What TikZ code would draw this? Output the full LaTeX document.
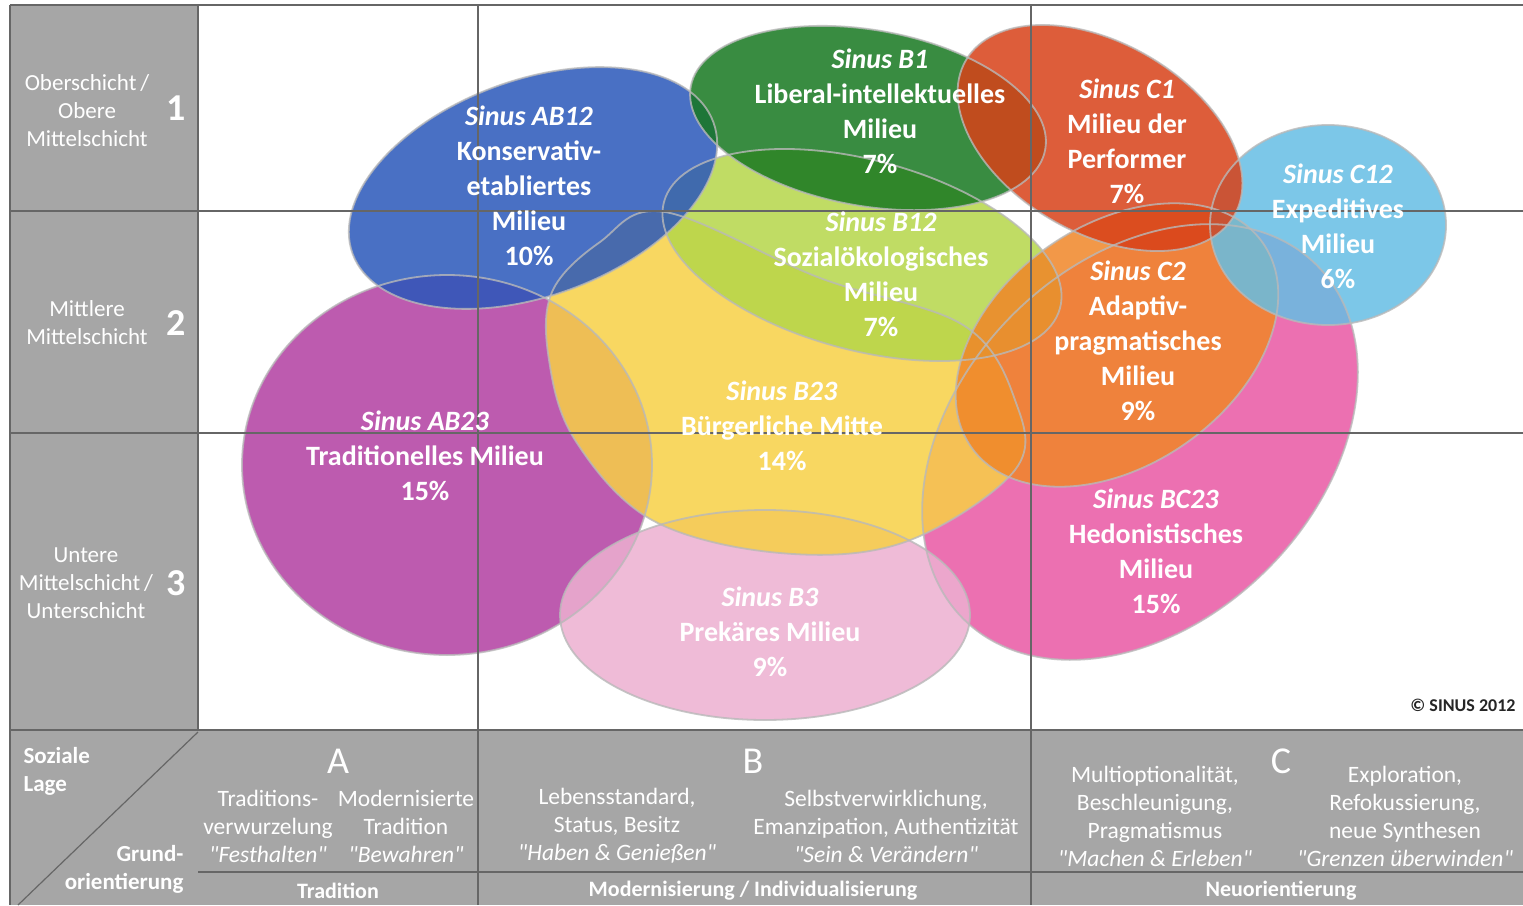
\documentclass[tikz,border=0pt]{standalone}
\usepackage{fontspec}
\newfontfamily\calibri{Carlito}

\definecolor{trad}{RGB}{178,63,162}
\definecolor{hedo}{RGB}{233,87,164}
\definecolor{prek}{RGB}{237,176,209}
\definecolor{buerg}{RGB}{247,208,70}
\definecolor{soz}{RGB}{181,214,73}
\definecolor{kons}{RGB}{42,87,186}
\definecolor{lib}{RGB}{23,120,32}
\definecolor{adap}{RGB}{240,134,40}
\definecolor{expe}{RGB}{102,190,228}
\definecolor{perf}{RGB}{216,65,24}
\definecolor{feld}{RGB}{166,166,166}

\begin{document}
\begin{tikzpicture}[x=1pt, y=-1pt,
    blob/.style={fill opacity=0.85},
    rim/.style={draw=gray!55, line width=1.8pt, draw opacity=0.8},
    raster/.style={draw=black!60, line width=1.2pt},
    milieu/.style={text=white, align=center, font=\calibri\fontsize{28}{35}\selectfont\bfseries},
    schicht/.style={text=white, align=center, font=\calibri\fontsize{23}{28}\selectfont},
    ziffer/.style={text=white, font=\calibri\fontsize{38}{40}\selectfont\bfseries},
    achse/.style={text=white, font=\calibri\fontsize{23}{28}\selectfont\bfseries},
    buchst/.style={text=white, font=\calibri\fontsize{38}{40}\selectfont},
    werte/.style={text=white, align=center, font=\calibri\fontsize{23.5}{28}\selectfont},
    leitbild/.style={text=white, font=\calibri\fontsize{22}{26}\selectfont\bfseries}
]
    % Frame and grey panels
    \useasboundingbox (0,0) rectangle (1523,905);
    \fill[white] (0,0) rectangle (1523,905);
    \fill[feld] (10,5) rectangle (198,905);
    \fill[feld] (198,730) rectangle (1523,905);

    % Milieus
    \fill[blob, trad, save path=\umTrad] (447,465) ellipse [x radius=205pt, y radius=190pt];
    \fill[blob, hedo, save path=\umHedo, rotate around={45:(1140,442)}] (1140,442) ellipse [x radius=250pt, y radius=180pt];
    \fill[blob, prek, save path=\umPrek] (765,615) ellipse [x radius=205pt, y radius=105pt];
    \fill[blob, buerg, save path=\umBuerg] plot[smooth cycle, tension=0.6] coordinates {
        (552,292) (600,242) (665,212) (820,278) (963,325) (1015,400)
        (1015,470) (905,542) (780,553) (652,520) (575,440) (549,360)};
    \fill[blob, soz, save path=\umSoz, rotate around={-15:(862,255)}] (862,255) ellipse [x radius=205pt, y radius=95pt];
    \fill[blob, kons, save path=\umKons, rotate around={20:(533,188)}] (533,188) ellipse [x radius=192pt, y radius=108pt];
    \fill[blob, lib, save path=\umLib, rotate around={-10:(868,118)}] (868,118) ellipse [x radius=180pt, y radius=88pt];
    \fill[blob, adap, save path=\umAdap, rotate around={35:(1117,345)}] (1117,345) ellipse [x radius=178pt, y radius=120pt];
    \fill[blob, expe, save path=\umExp] (1328,225) ellipse [x radius=118pt, y radius=100pt];
    \fill[blob, perf, save path=\umPerf, rotate around={-30:(1100,138)}] (1100,138) ellipse [x radius=155pt, y radius=95pt];

    % Outlines
    \foreach \um in {\umTrad, \umHedo, \umPrek, \umBuerg, \umSoz, \umKons, \umLib, \umAdap, \umExp, \umPerf}
        \draw[rim, use path=\um];

    % Grid
    \draw[raster] (10,5) -- (1523,5);
    \draw[raster] (10,5) -- (10,905);
    \draw[raster] (10,211) -- (1523,211);
    \draw[raster] (10,433) -- (1523,433);
    \draw[raster] (10,730) -- (1523,730);
    \draw[raster] (198,872) -- (1523,872);
    \draw[raster] (198,5) -- (198,730);
    \draw[raster] (478,5) -- (478,905);
    \draw[raster] (1031,5) -- (1031,905);
    \draw[raster] (198,732) -- (18,905);

    % Milieu labels
    \node[milieu] (sinus_ab12) at (529,186) {\textit{Sinus AB12}\\Konservativ-\\etabliertes\\Milieu\\10\%};
    \node[milieu] (sinus_b1) at (880,111) {\textit{Sinus B1}\\Liberal-intellektuelles\\Milieu\\7\%};
    \node[milieu] (sinus_c1) at (1127,141) {\textit{Sinus C1}\\Milieu der\\Performer\\7\%};
    \node[milieu] (sinus_c12) at (1338,226) {\textit{Sinus C12}\\Expeditives\\Milieu\\6\%};
    \node[milieu] (sinus_b12) at (881,274) {\textit{Sinus B12}\\Sozialökologisches\\Milieu\\7\%};
    \node[milieu] (sinus_c2) at (1138,341) {\textit{Sinus C2}\\Adaptiv-\\pragmatisches\\Milieu\\9\%};
    \node[milieu] (sinus_ab23) at (425,456) {\textit{Sinus AB23}\\Traditionelles Milieu\\15\%};
    \node[milieu] (sinus_b23) at (782,426) {\textit{Sinus B23}\\Bürgerliche Mitte\\14\%};
    \node[milieu] (sinus_bc23) at (1156,551) {\textit{Sinus BC23}\\Hedonistisches\\Milieu\\15\%};
    \node[milieu] (sinus_b3) at (770,632) {\textit{Sinus B3}\\Prekäres Milieu\\9\%};
    \node[font=\calibri\fontsize{18}{20}\selectfont\bfseries, text=black!85, anchor=east] (copyright) at (1519,705) {© SINUS 2012};

    % Social classes
    \node[schicht] (lage_1) at (87,111) {Oberschicht\,/\\Obere\\Mittelschicht};
    \node[ziffer] (ziffer_1) at (176,108) {1};
    \node[schicht] (lage_2) at (87,323) {Mittlere\\Mittelschicht};
    \node[ziffer] (ziffer_2) at (176,323) {2};
    \node[schicht] (lage_3) at (86,583) {Untere\\Mittelschicht\,/\\Unterschicht};
    \node[ziffer] (ziffer_3) at (176,583) {3};

    % Basic orientation
    \node[achse, align=left, anchor=west] (soziale_lage) at (20,771) {Soziale\\Lage};
    \node[achse, align=right, anchor=east] (grundorientierung) at (187,869) {Grund-\\orientierung};
    \node[buchst] (spalte_a) at (338,761) {A};
    \node[buchst] (spalte_b) at (753,761) {B};
    \node[buchst] (spalte_c) at (1281,761) {C};
    \node[werte] (a_links) at (268,826) {Traditions-\\verwurzelung\\\textit{"Festhalten"}};
    \node[werte] (a_rechts) at (406,826) {Modernisierte\\Tradition\\\textit{"Bewahren"}};
    \node[werte] (b_links) at (617,826) {Lebensstandard,\\Status, Besitz\\\textit{"Haben \& Genießen"}};
    \node[werte] (b_rechts) at (886,826) {Selbstverwirklichung,\\Emanzipation, Authentizität\\\textit{"Sein \& Verändern"}};
    \node[werte] (c_links) at (1155,816) {Multioptionalität,\\Beschleunigung,\\Pragmatismus\\\textit{"Machen \& Erleben"}};
    \node[werte] (c_rechts) at (1405,816) {Exploration,\\Refokussierung,\\neue Synthesen\\\textit{"Grenzen überwinden"}};
    \node[leitbild] (tradition) at (338,891) {Tradition};
    \node[leitbild] (modernisierung) at (753,891) {Modernisierung / Individualisierung};
    \node[leitbild] (neuorientierung) at (1281,891) {Neuorientierung};
\end{tikzpicture}
\end{document}
